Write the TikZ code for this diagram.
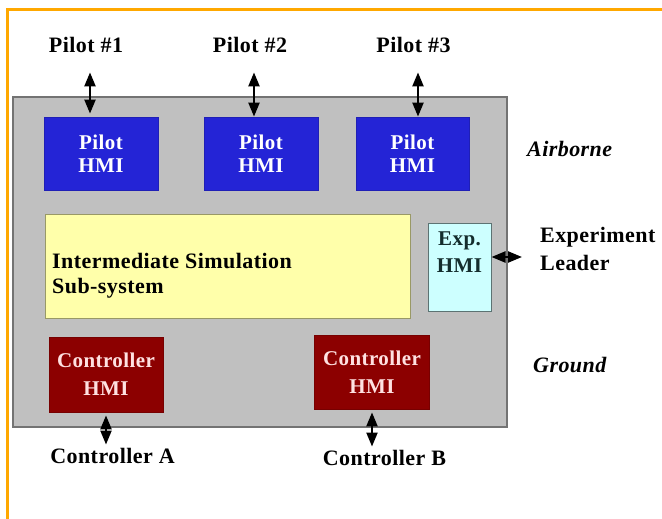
\documentclass[tikz,border=0pt]{standalone}
\usepackage{fontspec}
\setmainfont{Liberation Serif}[LetterSpace=2]
\usetikzlibrary{arrows.meta}

\definecolor{framecol}{RGB}{255,168,0}
\definecolor{basegray}{RGB}{192,192,192}
\definecolor{baseedge}{RGB}{115,115,115}
\definecolor{hmiblue}{RGB}{36,36,214}
\definecolor{simyellow}{RGB}{255,255,170}
\definecolor{expcyan}{RGB}{205,255,255}
\definecolor{exptextcol}{RGB}{20,45,45}
\definecolor{ctrlred}{RGB}{140,0,0}
\definecolor{ctrltext}{RGB}{255,225,225}

\begin{document}
\begin{tikzpicture}[x=1pt,y=-1pt,
  box/.style={draw, line width=0.8pt, inner sep=0pt, align=center,
    font=\bfseries\fontsize{21}{23}\selectfont},
  pilotbox/.style={box, fill=hmiblue, draw=hmiblue!85!black, text=white,
    minimum width=114pt, minimum height=73pt},
  ctrlbox/.style={box, fill=ctrlred, draw=ctrlred!85!black, text=ctrltext,
    minimum width=114pt, minimum height=75pt,
    font=\bfseries\fontsize{21}{28}\selectfont},
  lbl/.style={inner sep=3pt, font=\bfseries\fontsize{22}{24}\selectfont},
  zone/.style={inner sep=0pt, font=\bfseries\itshape\fontsize{22}{24}\selectfont},
  link/.style={line width=2.2pt,
    {Triangle[width=11pt,length=14pt]}-{Triangle[width=11pt,length=14pt]}},
]
\useasboundingbox (0,0) rectangle (662,519);

% page frame
\draw[framecol, line width=3pt] (7,519) -- (7,10) -- (662,10);

% simulator enclosure
\node[draw=baseedge, fill=basegray, line width=1.5pt, inner sep=0pt,
  minimum width=494pt, minimum height=330pt] (base) at (260,262) {};

% pilot side
\node[pilotbox] (hmi1) at (101,153.5) {Pilot\\HMI};
\node[pilotbox] (hmi2) at (261,153.5) {Pilot\\HMI};
\node[pilotbox, minimum width=113pt] (hmi3) at (412.5,153.5) {Pilot\\HMI};

\node[lbl, anchor=base] (pl1) at (86,53) {Pilot \#1};
\node[lbl, anchor=base] (pl2) at (250,53) {Pilot \#2};
\node[lbl, anchor=base] (pl3) at (413.5,53) {Pilot \#3};

\draw[link, shorten <=16pt, shorten >=3pt]
  ([xshift=4pt]pl1.south) -- ([xshift=4pt]pl1.south |- hmi1.north);
\draw[link, shorten <=16pt]
  ([xshift=4pt]pl2.south) -- ([xshift=4pt]pl2.south |- hmi2.north);
\draw[link, shorten <=16pt]
  ([xshift=4.5pt]pl3.south) -- ([xshift=4.5pt]pl3.south |- hmi3.north);

% simulation core
\node[draw=simyellow!60!black, fill=simyellow, line width=0.8pt, inner sep=0pt,
  minimum width=365pt, minimum height=104pt] (sim) at (227.5,266) {};
\node[anchor=west, inner sep=0pt, align=left,
  font=\bfseries\fontsize{22}{25}\selectfont] (simtext) at (52,276)
  {Intermediate Simulation\\Sub-system};

% experiment leader station
\node[draw=expcyan!45!black, fill=expcyan, line width=1pt, inner sep=0pt,
  minimum width=63pt, minimum height=88pt] (exp) at (459.5,267) {};
\node[inner sep=0pt, align=center, text=exptextcol,
  font=\bfseries\fontsize{21}{27}\selectfont] (exptext) at (459.5,252) {Exp.\\HMI};
\node[anchor=west, inner sep=0pt, align=left,
  font=\bfseries\fontsize{22}{28}\selectfont] (lead) at (540,249)
  {Experiment\\Leader};
\coordinate (leadtip) at (522,257);
\draw[link] (leadtip -| exp.east) -- (leadtip);

% controller side
\node[ctrlbox] (ctlA) at (106,374.5) {Controller\\HMI};
\node[ctrlbox, minimum width=115pt, minimum height=74pt] (ctlB) at (372,372) {Controller\\HMI};

\node[lbl, anchor=base] (ca) at (112.5,463) {Controller A};
\node[lbl, anchor=base] (cb) at (384.5,465) {Controller B};

\draw[link, shorten <=3pt] (ctlA.south) -- (ctlA.south |- ca.north);
\draw[link, shorten <=3pt] (ctlB.south) -- (ctlB.south |- cb.north);

% zone labels
\node[zone, anchor=base west] (air) at (527,157) {Airborne};
\node[zone, anchor=base west] (gnd) at (533,372) {Ground};
\end{tikzpicture}
\end{document}
